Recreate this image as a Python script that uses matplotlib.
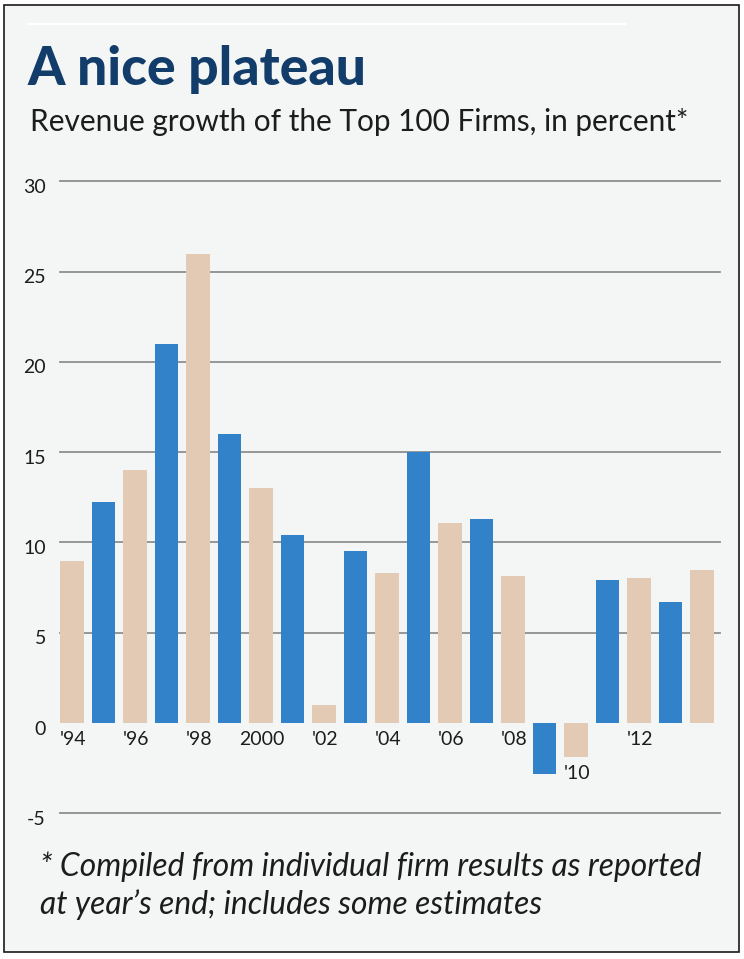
import matplotlib
matplotlib.use("Agg")
import matplotlib.pyplot as plt
import matplotlib.transforms as mtransforms
from matplotlib.patches import Rectangle
from matplotlib.lines import Line2D

# data
years = list(range(1994, 2015))
growth = [9.0, 12.25, 14.0, 21.0, 26.0, 16.0, 13.0, 10.4, 1.0, 9.5, 8.3,
          15.0, 11.1, 11.3, 8.15, -2.8, -1.9, 7.9, 8.05, 6.7, 8.45]
year_labels = ["'94", "", "'96", "", "'98", "", "2000", "", "'02", "", "'04",
               "", "'06", "", "'08", "", "'10", "", "'12", "", ""]
y_ticks = [30, 25, 20, 15, 10, 5, 0, -5]

BLUE = "#3182c8"
TAN = "#e2cab4"
BG = "#f4f6f5"
NAVY = "#123c6a"
TXT = "#1c1c1c"
GRID = "#8e8e8e"

plt.rcParams["font.family"] = ["Lato", "DejaVu Sans"]

W, H = 744, 959
fig = plt.figure(figsize=(W / 100, H / 100), dpi=100)
fig.patch.set_facecolor("white")

def fx(px):
    return px / W

def fy(py):
    return 1 - py / H

# panel background + frame
fig.patches.append(Rectangle((fx(4), fy(952)), fx(735), (952 - 5) / H, transform=fig.transFigure,
                             facecolor=BG, edgecolor="#1a1a1a", linewidth=1.2, zorder=-5))
fig.lines.append(Line2D([fx(28), fx(625)], [fy(24), fy(24)], transform=fig.transFigure,
                        color="white", linewidth=1.5, zorder=-4))

# axes placed so that x spans gridline extent and y spans -5..30
x_left, x_right = 60, 720
y_top, y_bot = 181.3, 813.3
ax = fig.add_axes([fx(x_left), fy(y_bot), (x_right - x_left) / W, (y_bot - y_top) / H])
ax.set_zorder(2)
ax.set_facecolor("none")
step = 31.5
ax.set_xlim((x_left - 72) / step, (x_right - 72) / step)
ax.set_ylim(-5, 30)

for y in y_ticks:
    if y != 0:
        ax.axhline(y, color=GRID, linewidth=1.3, clip_on=False, zorder=1)

idx = list(range(len(years)))
colors = [TAN if i % 2 == 0 else BLUE for i in idx]
ax.bar(idx, growth, width=0.76, color=colors, zorder=2)

for s in ax.spines.values():
    s.set_visible(False)
ax.set_xticks([])
ax.set_yticks([])

# y tick labels, right aligned a little below each line
ytrans = mtransforms.blended_transform_factory(fig.transFigure, ax.transData)
for y in y_ticks:
    ax.text(fx(46), y, str(y), transform=mtransforms.offset_copy(ytrans, fig=fig, x=0, y=-6, units="dots"),
            ha="right", va="center", fontsize=14, color=TXT, clip_on=False)

# year labels under bars (below the bar when negative)
for i, lab in enumerate(year_labels):
    if not lab:
        continue
    base = min(growth[i], 0)
    ax.text(i, base, lab, transform=mtransforms.offset_copy(ax.transData, fig=fig, x=1, y=-8, units="dots"),
            ha="center", va="top", fontsize=14, color=TXT, clip_on=False)

fig.text(fx(27), fy(85), "A nice plateau", fontsize=38.4, fontweight="black", color=NAVY, va="baseline")
fig.text(fx(30), fy(131), "Revenue growth of the Top 100 Firms, in percent*", fontsize=21.4,
         color=TXT, va="baseline")
fig.text(fx(40), fy(876), "* Compiled from individual firm results as reported", fontsize=22.9,
         style="italic", color=TXT, va="baseline")
fig.text(fx(40), fy(914), "at year\u2019s end; includes some estimates", fontsize=22.9,
         style="italic", color=TXT, va="baseline")

fig.savefig("out.png", dpi=100)
